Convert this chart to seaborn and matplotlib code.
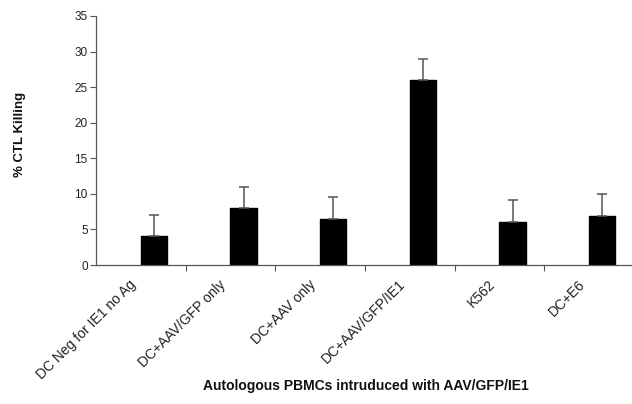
import matplotlib
matplotlib.use("Agg")
import matplotlib.pyplot as plt
import seaborn as sns
import numpy as np
import pandas as pd

categories = ["DC Neg for IE1 no Ag", "DC+AAV/GFP only", "DC+AAV only",
              "DC+AAV/GFP/IE1", "K562", "DC+E6"]
killing = [4.1, 8.0, 6.5, 26.0, 6.1, 6.9]
err_upper = [2.9, 3.0, 3.1, 3.0, 3.0, 3.1]
y_ticks = [0, 5, 10, 15, 20, 25, 30, 35]

sns.set_theme(style="white")
plt.rcParams['font.family'] = ['Liberation Sans', 'DejaVu Sans']

fig = plt.figure(figsize=(6.32, 4.04), dpi=100)
ax = fig.add_axes([96/632, 1-265/404, 538/632, 249/404])

idx = np.arange(len(categories))
pos = idx + 0.145
df = pd.DataFrame({"pos": pos, "val": killing})
sns.barplot(data=df, x="pos", y="val", native_scale=True, width=0.29,
            color="black", edgecolor="black", saturation=1, ax=ax, errorbar=None)
ax.errorbar(pos, killing, yerr=[np.zeros(len(killing)), err_upper], fmt="none",
            ecolor="#555555", elinewidth=1.1, capsize=3.5, capthick=1.1)

ax.set_xlim(-0.5, 5.5)
ax.set_ylim(0, 35)
ax.set_yticks(y_ticks)
ax.set_yticklabels([str(t) for t in y_ticks], fontsize=8.5, color="#222222")
ax.set_xticks(idx[:-1] + 0.5)
ax.set_xticklabels([])
ax.set_xticks(idx - 0.13, minor=True)
ax.set_xticklabels(categories, minor=True, rotation=45, ha="right",
                   rotation_mode="anchor", fontsize=10, color="#222222")
ax.tick_params(axis="x", which="major", direction="out", length=4, width=0.8,
               color="#555555", bottom=True)
ax.tick_params(axis="x", which="minor", length=0, pad=9)
ax.tick_params(axis="y", direction="out", length=4, width=0.8, color="#555555",
               left=True, pad=2)
for s in ["top", "right"]:
    ax.spines[s].set_visible(False)
for s in ["left", "bottom"]:
    ax.spines[s].set_color("#555555")
    ax.spines[s].set_linewidth(0.9)
ax.set_xlabel("")
ax.set_ylabel("")
fig.text(20/632, 1-134/404, "% CTL Killing", rotation=90, ha="center", va="center",
         fontsize=9.5, fontweight="bold", color="#111111")
fig.text(366/632, 1-386/404, "Autologous PBMCs intruduced with AAV/GFP/IE1",
         ha="center", va="center", fontsize=10, fontweight="bold", color="#111111")

fig.savefig("out.png", dpi=100)
